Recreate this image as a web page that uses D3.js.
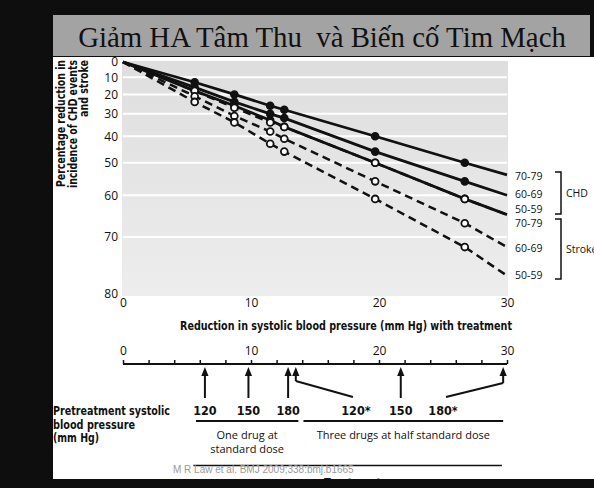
<!DOCTYPE html>
<html>
<head>
<meta charset="utf-8">
<title>Giảm HA Tâm Thu và Biến cố Tim Mạch</title>
<script src="https://d3js.org/d3.v7.min.js"></script>
<style>
  html, body { margin: 0; padding: 0; background: #0e0e0e; }
  svg { display: block; }
  text { font-family: "Open Sans", "Noto Sans", sans-serif; }
  .narrow { font-family: "Liberation Sans Narrow", "DejaVu Sans Condensed", sans-serif; font-weight: bold; }
</style>
</head>
<body>
<svg id="chart" width="594" height="488"></svg>
<script>
// reduction in systolic BP (mm Hg) at which points are read
var bpReduction = [0, 5.6, 8.7, 11.5, 12.6, 19.7, 26.7, 30];

// percentage reduction in incidence, by age group
var chd7079    = [0, 13, 20, 26, 28, 40, 50, 54];
var chd6069    = [0, 16, 24, 30, 32, 46, 56, 60];
var chd5059    = [0, 18, 26, 33, 36, 50, 61, 65];
var stroke7079 = [0, 18, 27, 34, 36, 50, 61, 65];
var stroke6069 = [0, 21, 31, 38, 41, 56, 67, 72];
var stroke5059 = [0, 24, 34, 43, 46, 61, 72, 77];

var ageGroups = ["70-79", "60-69", "50-59"];
var yTicks = [0, 10, 20, 30, 40, 50, 60, 70, 80];
var xTicks = [0, 10, 20, 30];

// lower panel: where each pretreatment BP lands on the reduction scale
var arrowAt = [6.4, 9.8, 12.9, 13.5, 21.7, 29.7];
var pretreatLabels = ["120", "150", "180", "120*", "150", "180*"];
var pretreatLabelAt = [6.4, 9.8, 12.9, 18.2, 21.7, 25.0];
var doseGroups = [
  { lines: ["One drug at", "standard dose"], from: 5.7, to: 13.7 },
  { lines: ["Three drugs at half standard dose"], from: 14.1, to: 29.7 }
];

var svg = d3.select("#chart");

// frame: black page, grey title band, white slide
svg.append("rect").attr("width", 594).attr("height", 488).attr("fill", "#0e0e0e");
svg.append("rect").attr("x", 53).attr("y", 15).attr("width", 537).attr("height", 41).attr("fill", "#a3a3a3");
svg.append("rect").attr("x", 53).attr("y", 57).attr("width", 541).attr("height", 422).attr("fill", "#ffffff");

svg.append("text")
  .attr("x", 322).attr("y", 47)
  .attr("text-anchor", "middle")
  .style("font-family", "'Liberation Serif', 'DejaVu Serif', serif")
  .style("font-size", "28.8px")
  .style("white-space", "pre")
  .attr("fill", "#111")
  .text("Giảm HA Tâm Thu  và Biến cố Tim Mạch");

// scales
var x = d3.scaleLinear().domain([0, 30]).range([123, 507]);
// y axis is logarithmic in relative risk (100 - % reduction)
var y = d3.scaleLog().domain([100, 20]).range([62, 296]);
var yp = function (p) { return y(100 - p); };

// plot background
var grad = svg.append("defs").append("linearGradient")
  .attr("id", "bg").attr("x1", 0).attr("y1", 0).attr("x2", 0).attr("y2", 1);
grad.append("stop").attr("offset", "0%").attr("stop-color", "#dedede");
grad.append("stop").attr("offset", "100%").attr("stop-color", "#ededed");

svg.append("rect")
  .attr("x", x(0) - 1).attr("y", yp(0) - 1)
  .attr("width", x(30) - x(0) + 2).attr("height", yp(80) - yp(0) + 1)
  .attr("fill", "url(#bg)");

svg.append("g").selectAll("line")
  .data(yTicks.filter(function (d) { return d > 0 && d < 80; }))
  .enter().append("line")
  .attr("x1", x(0)).attr("x2", x(30))
  .attr("y1", yp).attr("y2", yp)
  .attr("stroke", "#fff").attr("stroke-width", 2);

// y axis labels
var yAxis = svg.append("g")
  .attr("transform", "translate(" + (x(0) - 5) + ",0)")
  .call(d3.axisLeft(y).tickValues(yTicks.map(function (d) { return 100 - d; }))
    .tickFormat(function (d) { return Math.round(100 - d); })
    .tickSize(0).tickPadding(0));
yAxis.select(".domain").remove();
yAxis.selectAll("text")
  .style("font-family", "'Open Sans', sans-serif")
  .style("font-size", "12px")
  .attr("fill", "#111");
yAxis.selectAll(".tick").filter(function (d) { return d === 20; })
  .select("text").attr("dy", "0.1em");

// x axis labels
var xAxis = svg.append("g")
  .attr("transform", "translate(0," + (yp(80) + 2) + ")")
  .call(d3.axisBottom(x).tickValues(xTicks).tickSize(0).tickPadding(0));
xAxis.select(".domain").remove();
xAxis.selectAll("text")
  .style("font-family", "'Open Sans', sans-serif")
  .style("font-size", "12px")
  .attr("fill", "#111");

svg.append("text")
  .attr("class", "narrow")
  .attr("x", 512).attr("y", 330)
  .attr("text-anchor", "end")
  .attr("textLength", 332).attr("lengthAdjust", "spacingAndGlyphs")
  .style("font-size", "12px")
  .attr("fill", "#111")
  .text("Reduction in systolic blood pressure (mm Hg) with treatment");

var ylab = svg.append("text")
  .attr("class", "narrow")
  .attr("transform", "translate(65,60) rotate(-90)")
  .attr("text-anchor", "end")
  .style("font-size", "11.5px")
  .attr("fill", "#111");
[["Percentage reduction in", 127], ["incidence of CHD events", 128], ["and stroke", 57]].forEach(function (t, i) {
  ylab.append("tspan").attr("x", 0).attr("y", i * 11.7)
    .attr("textLength", t[1]).attr("lengthAdjust", "spacingAndGlyphs")
    .text(t[0]);
});

// series
var series = [
  { name: "CHD 70-79", values: chd7079, dashed: false },
  { name: "CHD 60-69", values: chd6069, dashed: false },
  { name: "CHD 50-59", values: chd5059, dashed: false },
  { name: "Stroke 70-79", values: stroke7079, dashed: true },
  { name: "Stroke 60-69", values: stroke6069, dashed: true },
  { name: "Stroke 50-59", values: stroke5059, dashed: true }
];

var line = d3.line()
  .x(function (d) { return x(d[0]); })
  .y(function (d) { return yp(d[1]); });

series.forEach(function (s) {
  s.points = bpReduction.map(function (b, i) { return [b, s.values[i]]; });
});

svg.append("g").selectAll("path")
  .data(series)
  .enter().append("path")
  .attr("d", function (s) { return line(s.points); })
  .attr("fill", "none")
  .attr("stroke", "#111")
  .attr("stroke-width", function (s) { return s.dashed ? 2.5 : 2.8; })
  .attr("stroke-dasharray", function (s) { return s.dashed ? "8,5" : null; });

series.forEach(function (s) {
  svg.append("g").selectAll("circle")
    .data(s.points.slice(1, s.points.length - 1))
    .enter().append("circle")
    .attr("cx", function (d) { return x(d[0]); })
    .attr("cy", function (d) { return yp(d[1]); })
    .attr("r", 3.4)
    .attr("fill", s.dashed ? "#fff" : "#111")
    .attr("stroke", "#111")
    .attr("stroke-width", 1.8);
});

// age labels at the line ends
var endLabelY = [176.5, 194, 209.5, 223, 248, 275];
svg.append("g").selectAll("text")
  .data(series)
  .enter().append("text")
  .attr("x", 515)
  .attr("y", function (s, i) { return endLabelY[i]; })
  .attr("dy", "0.35em")
  .style("font-size", "10.5px")
  .attr("fill", "#111")
  .text(function (s, i) { return ageGroups[i % 3]; });

function bracket(y0, y1, label, ly) {
  svg.append("path")
    .attr("d", "M555," + y0 + "H561V" + y1 + "H555")
    .attr("fill", "none").attr("stroke", "#111").attr("stroke-width", 1.5);
  svg.append("text")
    .attr("x", 566).attr("y", ly).attr("dy", "0.35em")
    .style("font-size", "10.5px").attr("fill", "#111")
    .text(label);
}
bracket(172, 214, "CHD", 193);
bracket(219, 279, "Stroke", 249);

// lower panel
var xb = d3.scaleLinear().domain([0, 30]).range([123, 507]);
var axisY = 364;
var bAxis = svg.append("g")
  .attr("transform", "translate(0," + axisY + ")")
  .call(d3.axisTop(xb).tickValues(d3.range(0, 31, 2))
    .tickSize(4).tickPadding(5)
    .tickFormat(function (d) { return d % 10 === 0 ? d : ""; }));
bAxis.select(".domain").attr("d", "M" + xb(0) + ",0H" + xb(30)).attr("stroke", "#111").attr("stroke-width", 1.8);
bAxis.selectAll(".tick line").attr("stroke", "#111").attr("stroke-width", 1.5);
bAxis.selectAll("text")
  .style("font-family", "'Open Sans', sans-serif")
  .style("font-size", "12px")
  .attr("fill", "#111");

// arrows
var arrows = svg.append("g");
arrowAt.forEach(function (a, i) {
  var ax = xb(a);
  var bottom = (i === 3) ? 381 : (i === 5 ? 383 : 398);
  arrows.append("line")
    .attr("x1", ax).attr("x2", ax)
    .attr("y1", 372).attr("y2", bottom)
    .attr("stroke", "#111").attr("stroke-width", 2);
  arrows.append("path")
    .attr("d", "M" + ax + ",367L" + (ax - 3.6) + ",376L" + (ax + 3.6) + ",376Z")
    .attr("fill", "#111");
});
// connectors from the "*" labels to their arrows
arrows.append("path")
  .attr("d", "M" + xb(arrowAt[3]) + ",381L" + (xb(pretreatLabelAt[3]) - 3) + ",397")
  .attr("fill", "none").attr("stroke", "#111").attr("stroke-width", 2);
arrows.append("path")
  .attr("d", "M" + (xb(pretreatLabelAt[5]) + 3) + ",397L" + xb(arrowAt[5]) + ",383")
  .attr("fill", "none").attr("stroke", "#111").attr("stroke-width", 2);

svg.append("g").selectAll("text")
  .data(pretreatLabels)
  .enter().append("text")
  .attr("class", "narrow")
  .attr("x", function (d, i) { return xb(pretreatLabelAt[i]); })
  .attr("y", 411).attr("dy", "0.35em")
  .attr("text-anchor", "middle")
  .style("font-size", "12.5px")
  .attr("fill", "#111")
  .text(function (d) { return d; });

var ptl = svg.append("text")
  .attr("class", "narrow")
  .style("font-size", "12px")
  .attr("fill", "#111");
[["Pretreatment systolic", 117], ["blood pressure", 82], ["(mm Hg)", 46]].forEach(function (t, i) {
  ptl.append("tspan").attr("x", 53).attr("y", 415 + i * 13.5)
    .attr("textLength", t[1]).attr("lengthAdjust", "spacingAndGlyphs")
    .text(t[0]);
});

doseGroups.forEach(function (g) {
  svg.append("line")
    .attr("x1", xb(g.from)).attr("x2", xb(g.to))
    .attr("y1", 421).attr("y2", 421)
    .attr("stroke", "#111").attr("stroke-width", 1.8);
  g.lines.forEach(function (t, i) {
    svg.append("text")
      .attr("x", (xb(g.from) + xb(g.to)) / 2)
      .attr("y", 435 + i * 14.5).attr("dy", "0.35em")
      .attr("text-anchor", "middle")
      .style("font-size", "11px")
      .attr("fill", "#111")
      .text(t);
  });
});

svg.append("line")
  .attr("x1", xb(5.5)).attr("x2", xb(29.6))
  .attr("y1", 465.5).attr("y2", 465.5)
  .attr("stroke", "#111").attr("stroke-width", 1.5);

svg.append("text")
  .attr("x", 324).attr("y", 485.5)
  .attr("class", "narrow")
  .style("font-size", "11px")
  .attr("fill", "#111")
  .text("Treatment");

svg.append("text")
  .attr("x", 173).attr("y", 472.5)
  .style("font-family", "'Liberation Sans', Arial, sans-serif")
  .style("font-size", "10px")
  .attr("fill", "#9a9a9a")
  .text("M R Law  et al. BMJ 2009;338:bmj.b1665");

// bottom black band
svg.append("rect").attr("x", 0).attr("y", 479).attr("width", 594).attr("height", 9).attr("fill", "#0e0e0e");
</script>
</body>
</html>
